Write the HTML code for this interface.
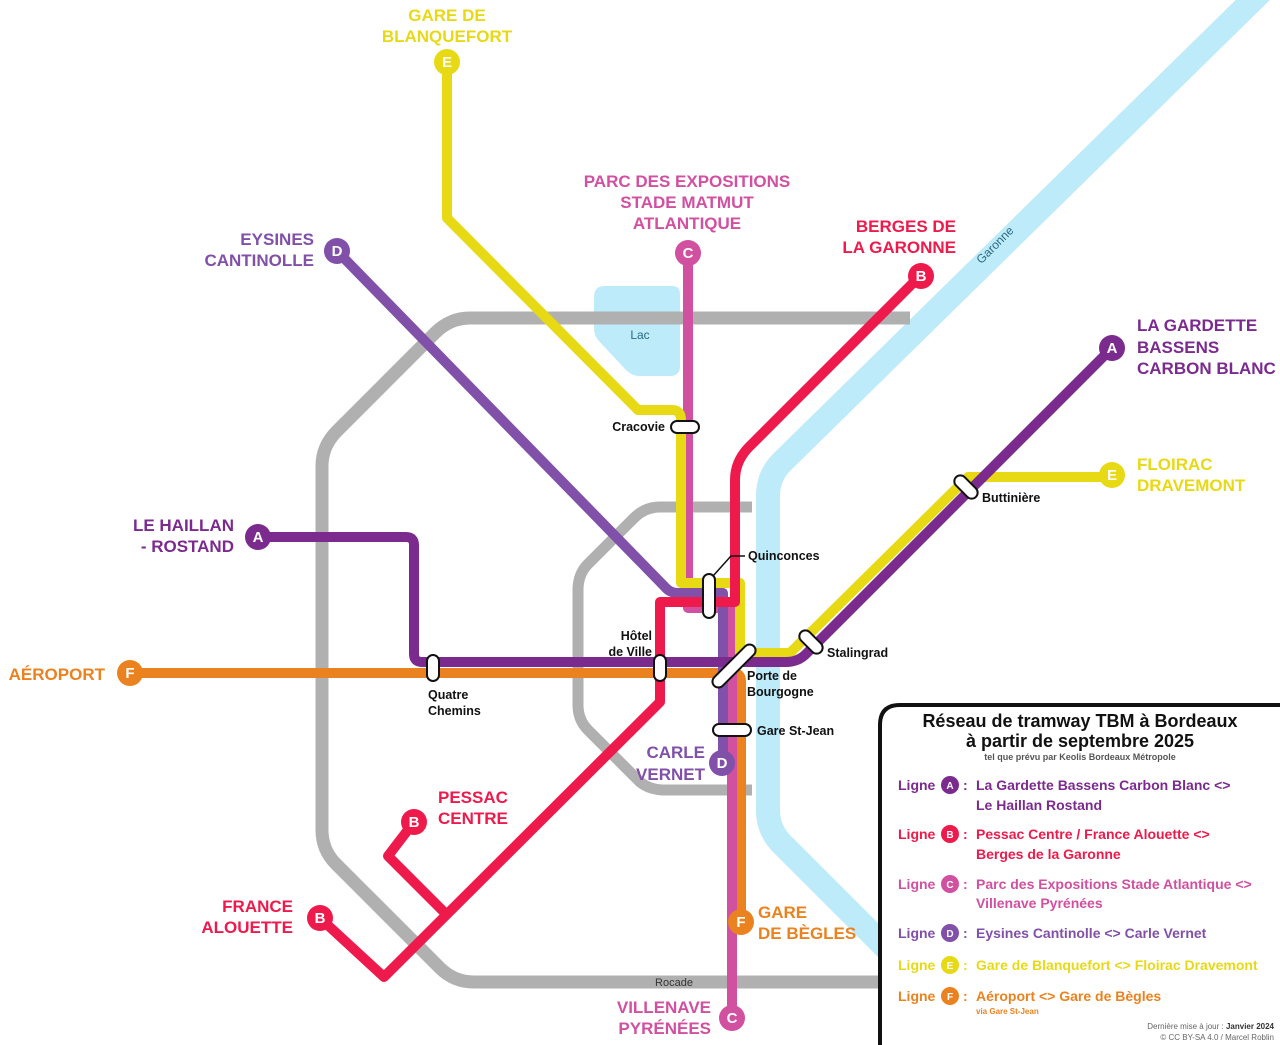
<!DOCTYPE html>
<html><head><meta charset="utf-8"><style>
html,body{margin:0;padding:0;background:#fff;}
svg{display:block;font-family:"Liberation Sans",sans-serif;}
.t{font-weight:bold;font-size:17px;}
.s{font-weight:bold;font-size:12.5px;fill:#111;}
.lg{font-weight:bold;font-size:14px;}
</style></head><body>
<svg width="1280" height="1045" viewBox="0 0 1280 1045" xmlns="http://www.w3.org/2000/svg">
<g fill="none" stroke-linecap="butt" stroke-linejoin="round">
<path d="M1265 -12 L782 462 Q768 476 768 496 V810 Q768 830 782 844 L905 967" stroke="#BDEBFA" stroke-width="24"/>
<path d="M605 286 H672 Q680 286 680 294 V366 Q680 376 670 376 H640 Q632 376 626 370 L598 340 Q594 335 594 328 V297 Q594 286 605 286 Z" fill="#BDEBFA" stroke="none"/>
<path d="M910 318 H470 Q450 318 435 333 L337 431 Q322 446 322 466 V830 Q322 850 336 864 L440 968 Q454 982 474 982 H880" stroke="#B0B0B0" stroke-width="13"/>
<path d="M752 507 H660 Q645 507 634 518 L588 564 Q578 574 578 590 V705 Q578 720 588 730 L640 782 Q650 790 665 790 H752" stroke="#B0B0B0" stroke-width="11"/>
<path d="M130 673 H733 Q741 673 741 681 V922" stroke="#EB8220" stroke-width="10"/>
<path d="M688 253 V608 H732 V1018" stroke="#D150A0" stroke-width="10"/>
<path d="M447 62 V218 L638 410 H672 Q681 410 681 420 V583 H740 V653 H790 L968 477 H1112" stroke="#E8D915" stroke-width="10"/>
<path d="M337 251 L665 587 Q670 593 678 593 H723 V763" stroke="#8150A8" stroke-width="10"/>
<path d="M1112 348 L806 654 Q798 662 786 662 H422 Q414 662 414 654 V545 Q414 537 406 537 H258" stroke="#7B2A8E" stroke-width="10"/>
<path d="M920 276 L748 448 Q735 462 735 480 V602 H660 V702 L384 977 L320 918" stroke="#EE1A4C" stroke-width="10"/>
<path d="M447 915 L388 856 L414 822" stroke="#EE1A4C" stroke-width="10"/>
<path d="M713 576 L731 556 H745" stroke="#111" stroke-width="1.5"/>
</g>
<g fill="#fff" stroke="#111" stroke-width="2">
<rect x="671" y="421" width="28" height="12" rx="6"/>
<rect x="703" y="574" width="12" height="44" rx="6"/>
<rect x="654" y="655" width="12" height="26" rx="6"/>
<rect x="427" y="655" width="12" height="26" rx="6"/>
<rect x="713" y="724" width="38" height="12" rx="6"/>
<rect x="706" y="660" width="56" height="12" rx="6" transform="rotate(-45 734 666)"/>
<rect x="797" y="636" width="28" height="12" rx="6" transform="rotate(45 811 642)"/>
<rect x="952" y="481" width="28" height="12" rx="6" transform="rotate(45 966 487)"/>
</g>
<g font-weight="bold" font-size="15" text-anchor="middle" fill="#fff">
<circle cx="447" cy="62" r="13" fill="#E8D915"/><text x="447" y="67">E</text>
<circle cx="688" cy="253" r="13" fill="#D150A0"/><text x="688" y="258">C</text>
<circle cx="921" cy="276" r="13" fill="#EE1A4C"/><text x="921" y="281">B</text>
<circle cx="337" cy="251" r="13" fill="#8150A8"/><text x="337" y="256">D</text>
<circle cx="1112" cy="348" r="13" fill="#7B2A8E"/><text x="1112" y="353">A</text>
<circle cx="1112" cy="475" r="13" fill="#E8D915"/><text x="1112" y="480">E</text>
<circle cx="258" cy="537" r="13" fill="#7B2A8E"/><text x="258" y="542">A</text>
<circle cx="130" cy="673" r="13" fill="#EB8220"/><text x="130" y="678">F</text>
<circle cx="414" cy="822" r="13" fill="#EE1A4C"/><text x="414" y="827">B</text>
<circle cx="320" cy="918" r="13" fill="#EE1A4C"/><text x="320" y="923">B</text>
<circle cx="741" cy="922" r="13" fill="#EB8220"/><text x="741" y="927">F</text>
<circle cx="732" cy="1018" r="13" fill="#D150A0"/><text x="732" y="1023">C</text>
<circle cx="722" cy="763" r="13" fill="#8150A8"/><text x="722" y="768">D</text>
</g>
<g class="t">
<text x="447" y="21" text-anchor="middle" fill="#E8D915">GARE DE</text>
<text x="447" y="42" text-anchor="middle" fill="#E8D915">BLANQUEFORT</text>
<text x="687" y="187" text-anchor="middle" fill="#D150A0">PARC DES EXPOSITIONS</text>
<text x="687" y="208" text-anchor="middle" fill="#D150A0">STADE MATMUT</text>
<text x="687" y="229" text-anchor="middle" fill="#D150A0">ATLANTIQUE</text>
<text x="956" y="232" text-anchor="end" fill="#EE1A4C">BERGES DE</text>
<text x="956" y="253" text-anchor="end" fill="#EE1A4C">LA GARONNE</text>
<text x="314" y="245" text-anchor="end" fill="#8150A8">EYSINES</text>
<text x="314" y="266" text-anchor="end" fill="#8150A8">CANTINOLLE</text>
<text x="1137" y="331" fill="#7B2A8E">LA GARDETTE</text>
<text x="1137" y="353" fill="#7B2A8E">BASSENS</text>
<text x="1137" y="374" fill="#7B2A8E">CARBON BLANC</text>
<text x="1137" y="470" fill="#E8D915">FLOIRAC</text>
<text x="1137" y="491" fill="#E8D915">DRAVEMONT</text>
<text x="234" y="531" text-anchor="end" fill="#7B2A8E">LE HAILLAN</text>
<text x="234" y="552" text-anchor="end" fill="#7B2A8E">- ROSTAND</text>
<text x="105" y="680" text-anchor="end" fill="#EB8220">AÉROPORT</text>
<text x="438" y="803" fill="#EE1A4C">PESSAC</text>
<text x="438" y="824" fill="#EE1A4C">CENTRE</text>
<text x="293" y="912" text-anchor="end" fill="#EE1A4C">FRANCE</text>
<text x="293" y="933" text-anchor="end" fill="#EE1A4C">ALOUETTE</text>
<text x="758" y="918" fill="#EB8220">GARE</text>
<text x="758" y="939" fill="#EB8220">DE BÈGLES</text>
<text x="711" y="1013" text-anchor="end" fill="#D150A0">VILLENAVE</text>
<text x="711" y="1034" text-anchor="end" fill="#D150A0">PYRÉNÉES</text>
<text x="705" y="758" text-anchor="end" fill="#8150A8">CARLE</text>
<text x="705" y="780" text-anchor="end" fill="#8150A8">VERNET</text>
</g>
<g class="s">
<text x="665" y="431" text-anchor="end">Cracovie</text>
<text x="748" y="560">Quinconces</text>
<text x="652" y="640" text-anchor="end">Hôtel</text>
<text x="652" y="656" text-anchor="end">de Ville</text>
<text x="428" y="699">Quatre</text>
<text x="428" y="715">Chemins</text>
<text x="747" y="680">Porte de</text>
<text x="747" y="696">Bourgogne</text>
<text x="757" y="735">Gare St-Jean</text>
<text x="827" y="657">Stalingrad</text>
<text x="982" y="502">Buttinière</text>
</g>
<text x="640" y="339" font-size="12" fill="#2a6a80" text-anchor="middle">Lac</text>
<text x="995" y="249" font-size="12" fill="#2a6a80" text-anchor="middle" transform="rotate(-45 995 245)">Garonne</text>
<text x="674" y="986" font-size="11" fill="#333" text-anchor="middle">Rocade</text>
<path d="M880 1050 V725 Q880 705 900 705 H1290" fill="#fff" stroke="#111" stroke-width="4"/>
<text x="1080" y="727" text-anchor="middle" font-weight="bold" font-size="18" fill="#111">Réseau de tramway TBM à Bordeaux</text>
<text x="1080" y="747" text-anchor="middle" font-weight="bold" font-size="18" fill="#111">à partir de septembre 2025</text>
<text x="1080" y="760" text-anchor="middle" font-weight="bold" font-size="9" fill="#555">tel que prévu par Keolis Bordeaux Métropole</text>
<g class="lg">
<text x="898" y="790" fill="#7B2A8E">Ligne</text><circle cx="950" cy="785" r="9" fill="#7B2A8E"/><text x="950" y="789" font-size="10" fill="#fff" text-anchor="middle">A</text><text x="963" y="790" fill="#7B2A8E">:</text>
<text x="976" y="790" fill="#7B2A8E">La Gardette Bassens Carbon Blanc &lt;&gt;</text><text x="976" y="810" fill="#7B2A8E">Le Haillan Rostand</text>
<text x="898" y="839" fill="#EE1A4C">Ligne</text><circle cx="950" cy="834" r="9" fill="#EE1A4C"/><text x="950" y="838" font-size="10" fill="#fff" text-anchor="middle">B</text><text x="963" y="839" fill="#EE1A4C">:</text>
<text x="976" y="839" fill="#EE1A4C">Pessac Centre / France Alouette &lt;&gt;</text><text x="976" y="859" fill="#EE1A4C">Berges de la Garonne</text>
<text x="898" y="889" fill="#D150A0">Ligne</text><circle cx="950" cy="884" r="9" fill="#D150A0"/><text x="950" y="888" font-size="10" fill="#fff" text-anchor="middle">C</text><text x="963" y="889" fill="#D150A0">:</text>
<text x="976" y="889" fill="#D150A0">Parc des Expositions Stade Atlantique &lt;&gt;</text><text x="976" y="908" fill="#D150A0">Villenave Pyrénées</text>
<text x="898" y="938" fill="#8150A8">Ligne</text><circle cx="950" cy="933" r="9" fill="#8150A8"/><text x="950" y="937" font-size="10" fill="#fff" text-anchor="middle">D</text><text x="963" y="938" fill="#8150A8">:</text>
<text x="976" y="938" fill="#8150A8">Eysines Cantinolle &lt;&gt; Carle Vernet</text>
<text x="898" y="970" fill="#E8D915">Ligne</text><circle cx="950" cy="965" r="9" fill="#E8D915"/><text x="950" y="969" font-size="10" fill="#fff" text-anchor="middle">E</text><text x="963" y="970" fill="#E8D915">:</text>
<text x="976" y="970" fill="#E8D915">Gare de Blanquefort &lt;&gt; Floirac Dravemont</text>
<text x="898" y="1001" fill="#EB8220">Ligne</text><circle cx="950" cy="996" r="9" fill="#EB8220"/><text x="950" y="1000" font-size="10" fill="#fff" text-anchor="middle">F</text><text x="963" y="1001" fill="#EB8220">:</text>
<text x="976" y="1001" fill="#EB8220">Aéroport &lt;&gt; Gare de Bègles</text>
</g>
<text x="976" y="1014" font-size="8" font-weight="bold" fill="#EB8220">via Gare St-Jean</text>
<text x="1274" y="1029" font-size="8" fill="#666" text-anchor="end">Dernière mise à jour : <tspan font-weight="bold" fill="#333">Janvier 2024</tspan></text>
<text x="1274" y="1040" font-size="8" fill="#666" text-anchor="end">© CC BY-SA 4.0 / Marcel Roblin</text>
</svg>
</body></html>
